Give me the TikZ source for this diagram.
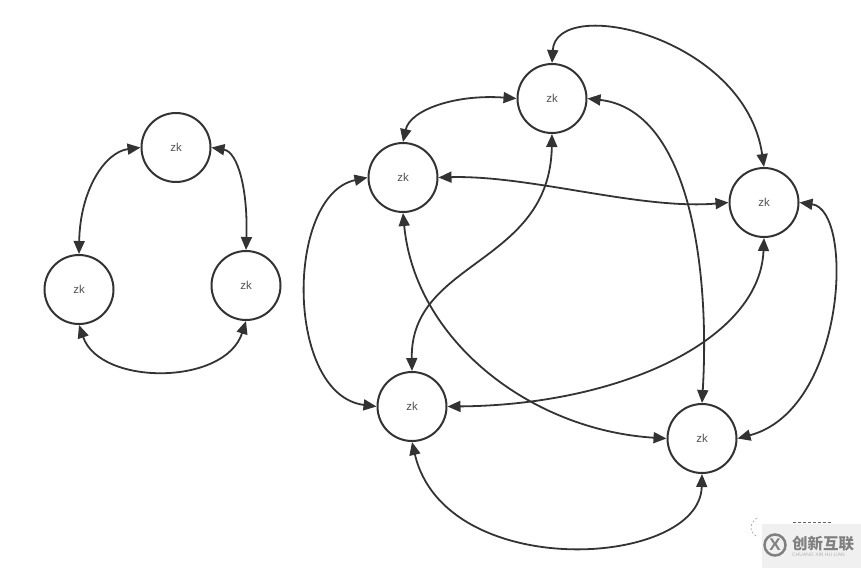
\documentclass[tikz,border=0pt]{standalone}
\usepackage{fontspec}
\setmainfont{Liberation Sans}
\newfontfamily\cjk{Noto Sans CJK SC}
\usetikzlibrary{arrows.meta}
\definecolor{ink}{HTML}{333333}
\tikzset{
  zk/.style={circle,draw=ink,line width=2pt,minimum size=69pt,inner sep=0pt,outer sep=1pt,text=ink!85,font=\fontsize{11.5}{12}\selectfont},
  link/.style={draw=ink,line width=1.8pt,{Triangle[length=13pt,width=11pt]}-{Triangle[length=13pt,width=11pt]}},
}
\begin{document}
\begin{tikzpicture}[x=1pt,y=-1pt]
\useasboundingbox (0,0) rectangle (861,568);
\fill[white] (0,0) rectangle (861,568);
\node[zk] (l1) at (176,147.5) {zk};
\node[zk] (l2) at (79,289.5) {zk};
\node[zk] (l3) at (246,285.5) {zk};
\node[zk] (a) at (552,98.5) {zk};
\node[zk] (b) at (403,177.5) {zk};
\node[zk] (c) at (764,202.5) {zk};
\node[zk] (d) at (412,406.5) {zk};
\node[zk] (e) at (702,438.5) {zk};
\draw[link] (l1.180) .. controls (105,152) and (80,190) .. (l2.90);
\draw[link] (l1.0) .. controls (238,152) and (248,190) .. (l3.90);
\draw[link] (l2.270) .. controls (100,386) and (225,386) .. (l3.270);
\draw[link] (a.180) .. controls (455,94) and (410,110) .. (b.90);
\draw[link] (a.90) .. controls (556,-6) and (745,36) .. (c.90);
\draw[link] (b.0) .. controls (530,175) and (640,210) .. (c.180);
\draw[link] (a.270) .. controls (550,265) and (410,260) .. (d.90);
\draw[link] (a.0) .. controls (690,110) and (710,270) .. (e.90);
\draw[link] (b.180) .. controls (285,195) and (285,395) .. (d.180);
\draw[link] (b.270) .. controls (415,340) and (530,430) .. (e.180);
\draw[link] (c.270) .. controls (760,340) and (620,405) .. (d.0);
\draw[link] (c.0) .. controls (855,210) and (846,410) .. (e.0);
\draw[link] (d.270) .. controls (445,583) and (700,568) .. (e.270);
% watermark
\fill[black!6] (762,524) rectangle (861,568);
\draw[black!45,line width=.5pt,dash pattern=on 2pt off 2pt] (757,518) .. controls (748,524) and (750,534) .. (758,537);
\draw[black!60,line width=.8pt,dash pattern=on 3pt off 2pt] (793,522) -- (832,522);
\node[draw=black!50,circle,line width=2.5pt,inner sep=0pt,minimum size=21pt,font=\fontsize{17}{17}\selectfont\bfseries,text=black!50] (logo) at (775,545) {X};
\node[anchor=west,inner sep=0pt,text=black!50,font=\cjk\bfseries\fontsize{15.5}{16}\selectfont] (wm) at (792,544) {创新互联};
\node[anchor=west,inner sep=0pt,text=black!30,font=\fontsize{5}{5}\selectfont] (wm2) at (792,555) {CHUANG XIN HU LIAN};
\end{tikzpicture}
\end{document}
